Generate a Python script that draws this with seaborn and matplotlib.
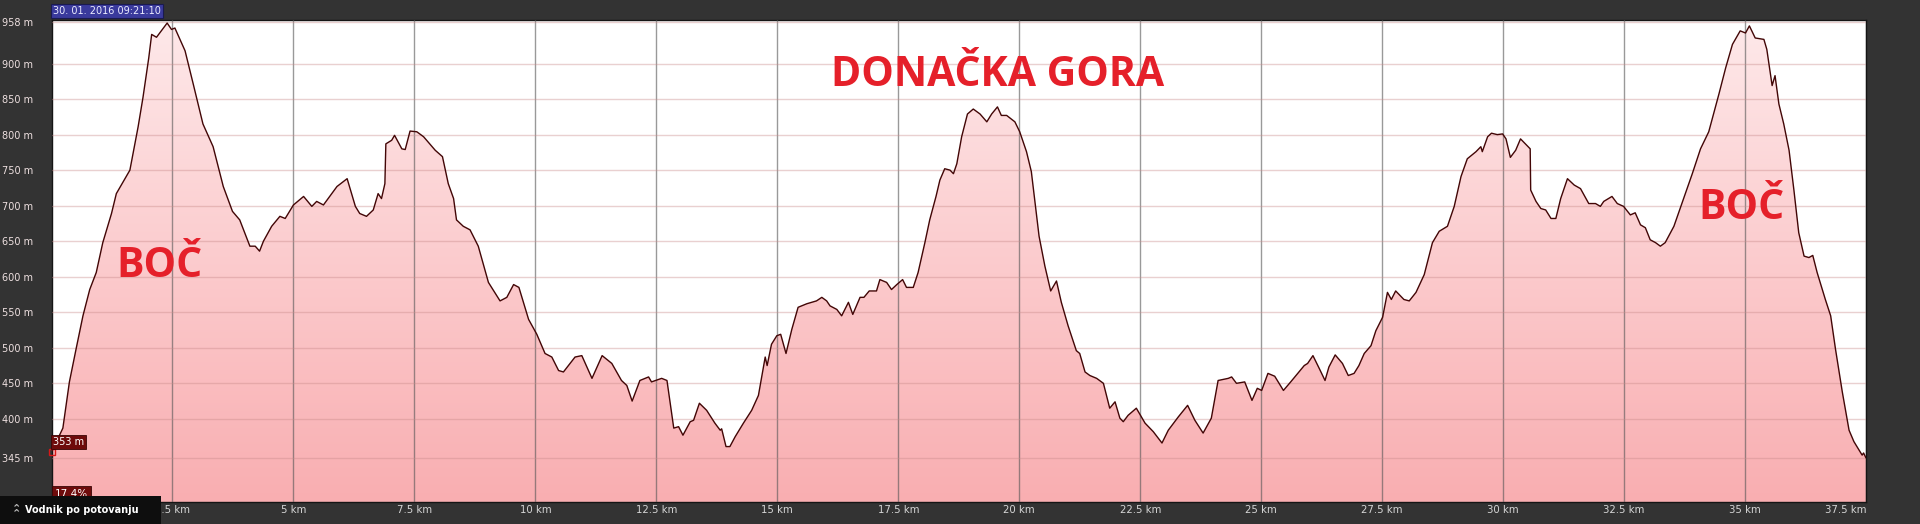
import matplotlib.pyplot as plt
import numpy as np
import seaborn as sns
from matplotlib.colors import LinearSegmentedColormap
from matplotlib.patches import Rectangle

# elevation profile (km, m)
dist_km = [0.0, 0.235, 0.37, 0.51, 0.65, 0.79, 0.925, 1.06, 1.24, 1.34, 1.62, 1.79, 1.89,
           2.01, 2.07, 2.17, 2.27, 2.39, 2.48, 2.55, 2.76, 2.93, 3.13, 3.34, 3.55, 3.74,
           3.89, 4.10, 4.21, 4.30, 4.38, 4.55, 4.72, 4.83, 5.0, 5.21, 5.38, 5.48, 5.62,
           5.90, 6.11, 6.28, 6.37, 6.51, 6.65, 6.75, 6.82, 6.89, 6.91, 7.03, 7.09, 7.24,
           7.31, 7.41, 7.55, 7.69, 7.93, 8.08, 8.20, 8.31, 8.37, 8.51, 8.65, 8.82, 9.03,
           9.27, 9.41, 9.55, 9.66, 9.86, 10.03, 10.20, 10.34, 10.48, 10.58, 10.82, 10.96,
           11.17, 11.38, 11.58, 11.78, 11.89, 12.00, 12.16, 12.27, 12.34, 12.40, 12.61,
           12.72, 12.86, 12.96, 13.05, 13.20, 13.27, 13.39, 13.54, 13.71, 13.82, 13.85,
           13.94, 14.02, 14.13, 14.30, 14.47, 14.61, 14.75, 14.79, 14.88, 14.99, 15.07,
           15.18, 15.30, 15.43, 15.61, 15.81, 15.92, 16.02, 16.09, 16.23, 16.33, 16.47,
           16.56, 16.71, 16.79, 16.90, 17.05, 17.12, 17.26, 17.36, 17.47, 17.59, 17.67,
           17.81, 17.91, 18.05, 18.15, 18.28, 18.36, 18.46, 18.57, 18.64, 18.71, 18.81,
           18.93, 19.05, 19.19, 19.33, 19.43, 19.55, 19.63, 19.74, 19.91, 20.01, 20.15,
           20.25, 20.32, 20.41, 20.53, 20.65, 20.77, 20.87, 21.01, 21.18, 21.25, 21.36,
           21.46, 21.60, 21.74, 21.87, 21.98, 22.08, 22.15, 22.25, 22.42, 22.60, 22.77,
           22.95, 23.08, 23.29, 23.48, 23.63, 23.80, 23.97, 24.11, 24.32, 24.39, 24.49,
           24.66, 24.81, 24.92, 25.01, 25.14, 25.28, 25.46, 25.61, 25.89, 25.96, 26.07,
           26.20, 26.32, 26.40, 26.53, 26.68, 26.80, 26.92, 27.02, 27.13, 27.27, 27.37,
           27.51, 27.61, 27.69, 27.78, 27.95, 28.06, 28.20, 28.37, 28.54, 28.68, 28.85,
           28.99, 29.13, 29.26, 29.44, 29.54, 29.57, 29.68, 29.76, 29.88, 29.99, 30.06,
           30.15, 30.26, 30.36, 30.56, 30.57, 30.68, 30.78, 30.88, 30.99, 31.09, 31.19,
           31.33, 31.47, 31.60, 31.77, 31.91, 32.01, 32.08, 32.25, 32.36, 32.49, 32.63,
           32.73, 32.84, 32.94, 33.04, 33.15, 33.25, 33.35, 33.53, 33.73, 33.91, 34.08,
           34.25, 34.46, 34.60, 34.74, 34.90, 35.01, 35.09, 35.21, 35.39, 35.45, 35.56,
           35.62, 35.70, 35.80, 35.91, 36.01, 36.11, 36.22, 36.32, 36.40, 36.49, 36.66,
           36.77, 36.87, 37.01, 37.15, 37.25, 37.42, 37.45, 37.5]
elev_m = [353, 387, 452, 499, 545, 582, 606, 648, 689, 717, 750, 811, 852,
          908, 941, 937, 946, 957, 948, 950, 918, 871, 815, 783, 727, 692,
          680, 643, 643, 636, 650, 671, 685, 682, 701, 713, 699, 706, 701,
          727, 738, 699, 689, 685, 694, 717, 710, 731, 787, 792, 799, 780,
          779, 805, 804, 797, 778, 769, 731, 710, 680, 671, 666, 643, 592,
          566, 571, 589, 585, 540, 519, 492, 487, 468, 466, 487, 489,
          457, 489, 478, 454, 447, 425, 454, 457, 459, 452, 457,
          454, 387, 389, 377, 396, 398, 422, 412, 394, 384, 386,
          361, 361, 375, 394, 412, 433, 487, 475, 505, 517, 519,
          492, 526, 557, 562, 566, 571, 566, 559, 554, 545, 564,
          547, 571, 571, 580, 580, 596, 592, 582, 589, 596, 585,
          585, 606, 648, 680, 713, 736, 752, 750, 745, 759, 797,
          829, 836, 829, 818, 829, 839, 827, 827, 818, 804, 776,
          748, 708, 657, 615, 580, 594, 564, 531, 496, 492, 466,
          461, 457, 450, 415, 424, 401, 396, 405, 415, 394, 382,
          366, 384, 403, 419, 398, 380, 401, 454, 457, 459, 450,
          452, 426, 443, 440, 464, 460, 440, 452, 475, 478, 489,
          471, 454, 473, 490, 478, 461, 464, 475, 492, 503, 524,
          543, 578, 568, 580, 568, 566, 578, 603, 648, 664, 671,
          699, 741, 766, 776, 783, 776, 797, 802, 800, 801, 794,
          768, 778, 794, 780, 722, 706, 696, 694, 682, 682, 710,
          738, 729, 724, 703, 703, 699, 706, 713, 703, 699, 687,
          690, 673, 669, 652, 648, 643, 648, 671, 710, 745, 780,
          804, 857, 894, 927, 946, 943, 953, 936, 934, 920, 869,
          883, 843, 815, 778, 722, 662, 629, 627, 630, 606, 568,
          545, 498, 438, 384, 368, 349, 352, 345]

y_ticks = [345, 400, 450, 500, 550, 600, 650, 700, 750, 800, 850, 900, 958]
y_labels = [f'{v} m' for v in y_ticks]
x_ticks = [2.5, 5, 7.5, 10, 12.5, 15, 17.5, 20, 22.5, 25, 27.5, 30, 32.5, 35, 37.5]
x_labels = ['2.5 km', '5 km', '7.5 km', '10 km', '12.5 km', '15 km', '17.5 km', '20 km',
            '22.5 km', '25 km', '27.5 km', '30 km', '32.5 km', '35 km', '37.5 km']

peaks = ['BOČ', 'DONAČKA GORA', 'BOČ']
peak_km = [2.23, 19.56, 34.93]
peak_m = [600, 869, 681]

W, H = 1920, 524
ymin, ymax = 283, 962


def px(x, y):
    # pixel position -> figure fraction
    return x / W, 1 - y / H


sns.set_style('white')
plt.rcParams['font.family'] = ['DejaVu Sans']

fig = plt.figure(figsize=(19.2, 5.24), dpi=100, facecolor='#333333')
ax = fig.add_axes([51.5 / W, 22 / H, 1814.5 / W, 482.5 / H])
ax.set_facecolor('white')

# gradient fill under the profile
poly = ax.fill_between(dist_km, elev_m, ymin, color='none', lw=0)
cmap = LinearSegmentedColormap.from_list('pinks', ['#f9aeb1', '#fee9ea'])
grad = ax.imshow(np.linspace(0, 1, 256).reshape(-1, 1), cmap=cmap, aspect='auto',
                 extent=[0, 37.5, ymin, ymax], origin='lower', zorder=1)
grad.set_clip_path(poly.get_paths()[0], transform=ax.transData)

sns.lineplot(x=dist_km, y=elev_m, ax=ax, color='#420606', lw=1.0, sort=False,
             estimator=None, zorder=4)

ax.set_xlim(0, 37.5)
ax.set_ylim(ymin, ymax)
ax.set_xticks(x_ticks)
ax.set_xticklabels(x_labels)
ax.set_yticks(y_ticks)
ax.set_yticklabels(y_labels)
ax.set_axisbelow(False)
ax.grid(axis='x', color='#555555', alpha=0.6, lw=1)
ax.grid(axis='y', color='#c88a8a', alpha=0.4, lw=1)
ax.tick_params(axis='x', length=0, pad=2, labelsize=7.3, labelcolor='#d6d6d6')
ax.tick_params(axis='y', length=0, pad=36, labelsize=7, labelcolor='#eee0e0')
for lab in ax.get_yticklabels():
    lab.set_ha('left')
ax.get_xticklabels()[-1].set_ha('right')
for s in ax.spines.values():
    s.set_color('#151515')
    s.set_linewidth(1)

# big red names of the hills
for name, k, m in zip(peaks, peak_km, peak_m):
    ax.text(k, m, name, ha='center', va='baseline', color='#e5202a', fontsize=29.5,
            fontweight='bold', family='Open Sans', zorder=5)

# start marker and current value boxes
ax.plot([dist_km[0]], [elev_m[0]], marker='s', ms=5, mfc='none', mec='#d81818',
        mew=1, clip_on=False, zorder=6)
fig.text(*px(53, 442), f'{elev_m[0]} m', color='white', fontsize=7, va='center',
         bbox=dict(boxstyle='square,pad=0.22', fc='#6e0b0b', ec='#3a0505', lw=0.6))
fig.text(*px(55, 494), '17.4%', color='white', fontsize=7.5, va='center',
         bbox=dict(boxstyle='square,pad=0.25', fc='#6e0b0b', ec='#3a0505', lw=0.6))

# date box at top
fig.text(*px(53, 11), '30. 01. 2016 09:21:10', color='#ececff', fontsize=7, va='center',
         bbox=dict(boxstyle='square,pad=0.18', fc='#3a3a9c', ec='#1a1a50', lw=0.8))

# guide button bottom-left
fig.add_artist(Rectangle(px(0, 524), 161 / W, 28 / H, transform=fig.transFigure,
                         fc='#0e0e0e', ec='none', zorder=10))
fig.text(*px(12, 511), '⌃\n⌃', color='#bbbbbb', fontsize=8, fontweight='bold',
         va='center', linespacing=0.35, zorder=11)
fig.text(*px(25, 510), 'Vodnik po potovanju', color='white', fontsize=7,
         fontweight='bold', va='center', zorder=11)

fig.savefig('out.png', dpi=100, facecolor=fig.get_facecolor())
